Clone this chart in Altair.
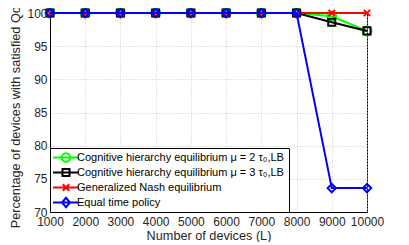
import altair as alt
import pandas as pd

devices = [1000, 2000, 3000, 4000, 5000, 6000, 7000, 8000, 9000, 10000]
series_names = [
    "Cognitive hierarchy equilibrium  μ = 2 τ₀,LB",
    "Cognitive hierarchy equilibrium  μ = 3 τ₀,LB",
    "Generalized Nash equilibrium",
    "Equal time policy",
]
ch_mu2 = [100, 100, 100, 100, 100, 100, 100, 100, 99.5, 97.3]
ch_mu3 = [100, 100, 100, 100, 100, 100, 100, 100, 98.6, 97.3]
gne = [100, 100, 100, 100, 100, 100, 100, 100, 100, 100]
equal_time = [100, 100, 100, 100, 100, 100, 100, 100, 73.6, 73.6]

colors = ["#00ff00", "#000000", "#ff0000", "#0000ff"]
xpath = "M-1,-1L1,1M-1,1L1,-1"
marker_shapes = ["circle", "square", xpath, "diamond"]
marker_sizes = [80, 50, 40, 70]

legend_paths = [
    "M-2.6,0L2.6,0M-0.85,0A0.85,0.85 0 1,0 0.85,0A0.85,0.85 0 1,0 -0.85,0Z",
    "M-2.6,0L2.6,0M-0.7,-0.7L0.7,-0.7L0.7,0.7L-0.7,0.7Z",
    "M-2.6,0L2.6,0M-0.65,-0.65L0.65,0.65M-0.65,0.65L0.65,-0.65",
    "M-2.6,0L2.6,0M0,-0.95L0.8,0L0,0.95L-0.8,0Z",
]

rows = []
for name, vals in zip(series_names, [ch_mu2, ch_mu3, gne, equal_time]):
    for d, v in zip(devices, vals):
        rows.append({"devices": d, "pct": v, "series": name})
df = pd.DataFrame(rows)

color_scale = alt.Scale(domain=series_names, range=colors)
shape_scale = alt.Scale(domain=series_names, range=legend_paths)

legend = alt.Legend(
    title=None,
    orient="none",
    legendX=0,
    legendY=135,
    strokeColor="#000000",
    fillColor="#ffffff",
    padding=2,
    symbolSize=100,
    symbolStrokeWidth=2,
    symbolFillColor="transparent",
    symbolOffset=8,
    labelOffset=5,
    labelFontSize=11,
    labelFont="Liberation Sans",
    labelColor="#000000",
    rowPadding=0,
    clipHeight=15,
    labelLimit=400,
)

x_enc = alt.X(
    "devices:Q",
    scale=alt.Scale(domain=[1000, 10000], nice=False),
    axis=alt.Axis(
        title="Number of devices (L)",
        values=devices,
        format="d",
        grid=True,
        labelOverlap=False,
        labelFlush=False,
        labelPadding=4,
        titlePadding=2,
    ),
)
y_enc = alt.Y(
    "pct:Q",
    scale=alt.Scale(domain=[70, 100], nice=False),
    axis=alt.Axis(
        title="Percentage of devices with satisfied QoS",
        values=[70, 75, 80, 85, 90, 95, 100],
        grid=True,
        labelOverlap=False,
        labelFlush=False,
    ),
)
color_enc = alt.Color("series:N", scale=color_scale, legend=legend, sort=series_names)

base = alt.Chart(df).encode(x=x_enc, y=y_enc, color=color_enc)

layers = []
for name, shp, sz in zip(series_names, marker_shapes, marker_sizes):
    sel = base.transform_filter(alt.datum.series == name)
    layers.append(sel.mark_line(strokeWidth=2, clip=False))
    layers.append(sel.mark_point(shape=shp, size=sz, filled=False, strokeWidth=2, opacity=1, clip=False))

legend_layer = base.transform_filter("false").mark_point(filled=False, strokeWidth=2).encode(
    shape=alt.Shape("series:N", scale=shape_scale, legend=legend, sort=series_names)
)
layers.append(legend_layer)

chart = (
    alt.layer(*layers)
    .properties(
        width=317,
        height=199,
        autosize=alt.AutoSizeParams(type="none"),
        padding={"left": 42, "top": 5, "right": 30, "bottom": 30},
        background="#ffffff",
    )
    .configure_view(stroke="#000000", strokeWidth=1)
    .configure_axis(
        labelFont="Liberation Sans",
        titleFont="Liberation Sans",
        labelFontSize=12,
        titleFontSize=12.7,
        titleFontWeight="normal",
        labelColor="#262626",
        titleColor="#262626",
        domainColor="#000000",
        ticks=False,
        labelPadding=3,
        gridColor="#c8c8c8",
        gridDash=[1, 2],
        gridWidth=1,
    )
    .configure_axisY(titlePadding=4)
)

chart.save("out.html", embed_options={"renderer": "svg", "actions": False})
